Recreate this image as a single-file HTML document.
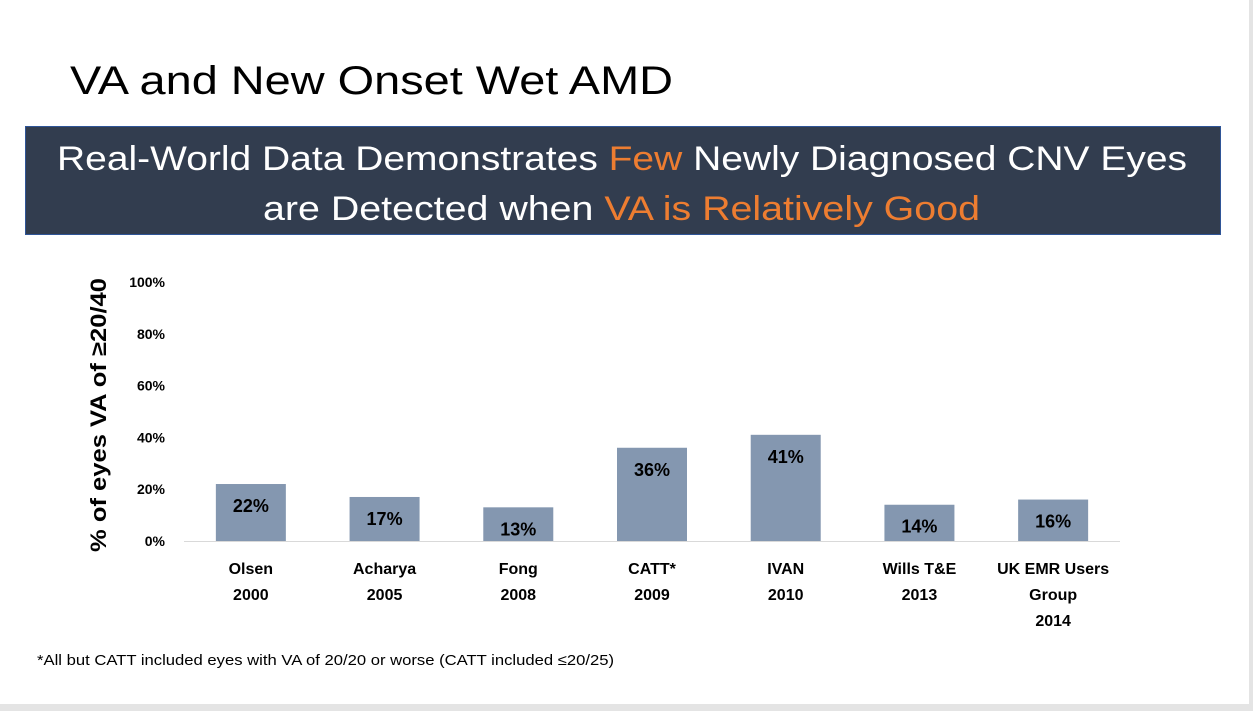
<!DOCTYPE html>
<html><head><meta charset="utf-8"><style>
html,body{margin:0;padding:0;background:#fff;}
svg{display:block;font-family:"Liberation Sans",sans-serif;}
</style></head><body>
<svg width="1253" height="711" viewBox="0 0 1253 711">
<rect x="0" y="0" width="1253" height="711" fill="#fff"/>
<rect x="1249" y="0" width="4" height="711" fill="#e4e4e4"/>
<rect x="0" y="704" width="1253" height="7" fill="#e4e4e4"/>
<text x="70" y="94" font-size="40" fill="#000" textLength="603" lengthAdjust="spacingAndGlyphs">VA and New Onset Wet AMD</text>
<rect x="25.5" y="126.5" width="1195" height="108" fill="#323d4f" stroke="#2f5597" stroke-width="1"/>
<text x="57" y="170" font-size="34" fill="#fff" textLength="1130" lengthAdjust="spacingAndGlyphs">Real-World Data Demonstrates <tspan fill="#ed7d31">Few</tspan> Newly Diagnosed CNV Eyes</text>
<text x="263" y="220" font-size="34" fill="#fff" textLength="717" lengthAdjust="spacingAndGlyphs">are Detected when <tspan fill="#ed7d31">VA is Relatively Good</tspan></text>
<g id="chart"></g>
<text transform="translate(106,415) rotate(-90)" text-anchor="middle" font-size="22" font-weight="bold" fill="#000" textLength="274" lengthAdjust="spacingAndGlyphs">% of eyes VA of ≥20/40</text>
<text x="37" y="665" font-size="15" fill="#000" textLength="577" lengthAdjust="spacingAndGlyphs">*All but CATT included eyes with VA of 20/20 or worse (CATT included ≤20/25)</text>
</svg>
<script>
const categories = [["Olsen","2000"],["Acharya","2005"],["Fong","2008"],["CATT*","2009"],["IVAN","2010"],["Wills T&E","2013"],["UK EMR Users","Group","2014"]];
const values = [22,17,13,36,41,14,16];
const yTicks = [0,20,40,60,80,100];
const NS="http://www.w3.org/2000/svg";
const g=document.getElementById('chart');
const x0=184,x1=1120,y0=541,yTop=282;
const step=(x1-x0)/categories.length;
const xc=i=>x0+step*(i+0.5);
const y=v=>y0-(v/100)*(y0-yTop);
function mk(t,a){const e=document.createElementNS(NS,t);for(const k in a)e.setAttribute(k,a[k]);g.appendChild(e);return e;}
yTicks.forEach(t=>{
  const e=mk('text',{x:165,y:y(t)+5,'text-anchor':'end','font-size':14,'font-weight':'bold',fill:'#000'});
  
  
  e.textContent=t+'%';
});
const ax=mk('line',{x1:x0,x2:x1,y1:y0+0.5,y2:y0+0.5,stroke:'#d9d9d9','stroke-width':1});


values.forEach((v,i)=>{
  const r=mk('rect',{x:xc(i)-35,y:y(v),width:70,height:y0-y(v),fill:'#8497b0'});
  
  
  const l=mk('text',{x:xc(i),y:y(v)+28,'text-anchor':'middle','font-size':18,'font-weight':'bold',fill:'#000'});
  
  
  l.textContent=v+'%';
  categories[i].forEach((s,j)=>{
    const c=mk('text',{x:xc(i),y:574+26*j,'text-anchor':'middle','font-size':16,'font-weight':'bold',fill:'#000'});
    
    
    c.textContent=s;
  });
});
</script>
</body></html>
